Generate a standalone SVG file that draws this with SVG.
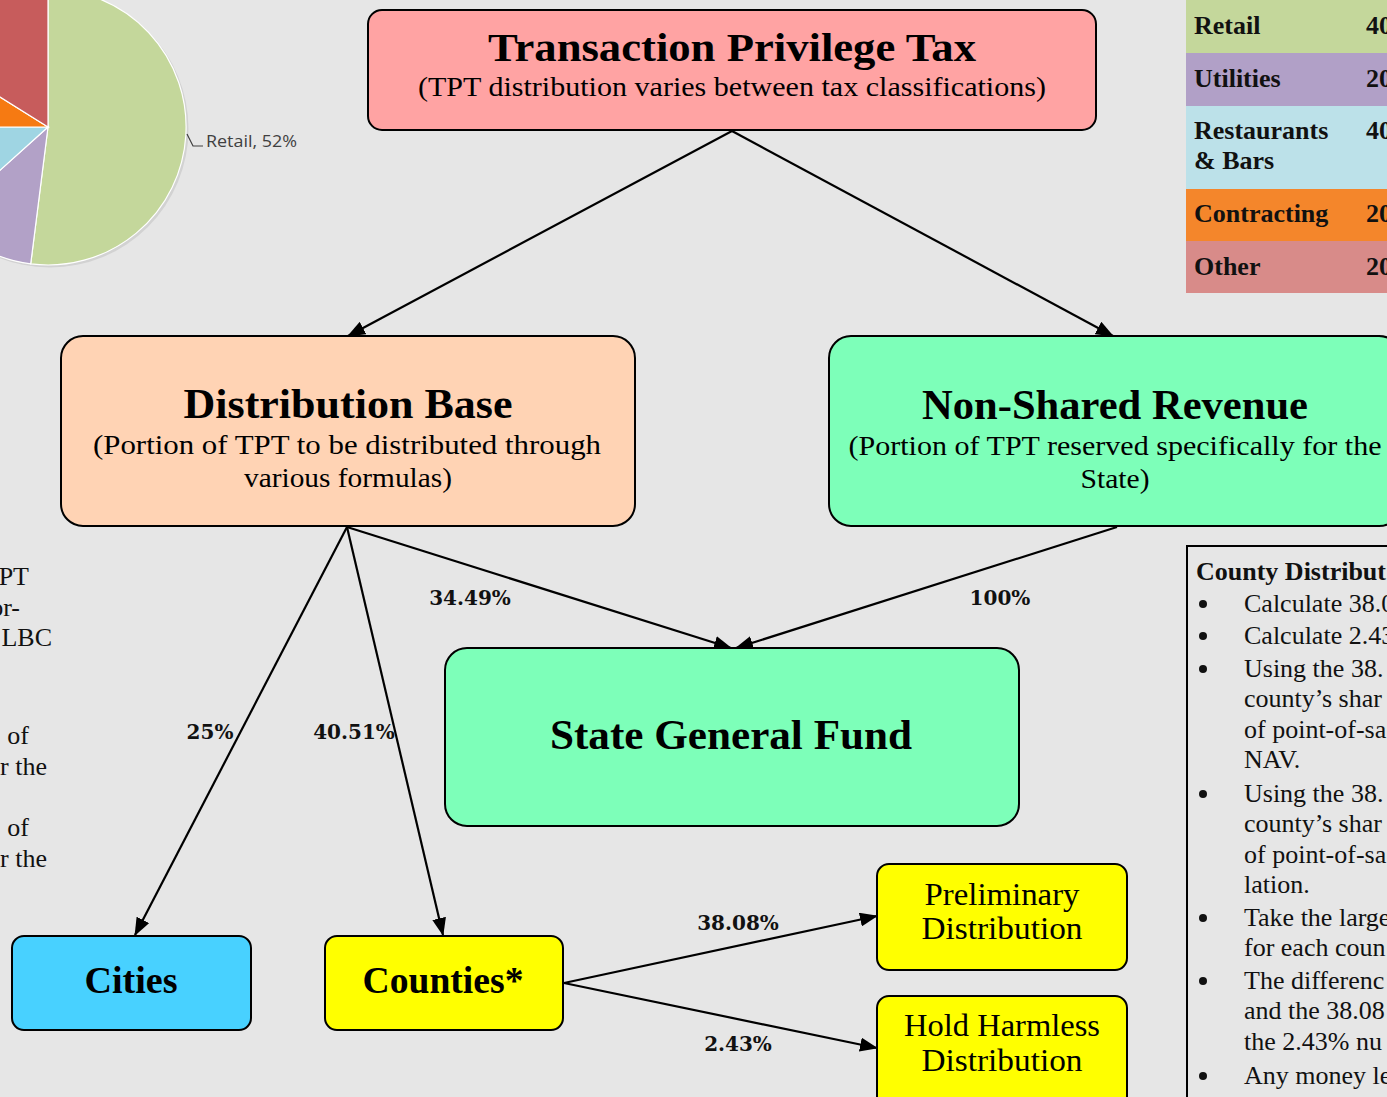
<svg xmlns="http://www.w3.org/2000/svg" width="1387" height="1097" viewBox="0 0 1387 1097">
  <style>
    .box { stroke: #000; stroke-width: 2; }
    .title { font-family: "Liberation Serif", "Times New Roman", serif; font-weight: bold; text-anchor: middle; fill: #000; }
    .sub { font-family: "Liberation Serif", "Times New Roman", serif; text-anchor: middle; fill: #000; }
    .pct { font-family: "DejaVu Serif", serif; font-weight: bold; font-size: 20px; text-anchor: middle; fill: #111; }
    .edge { stroke: #000; stroke-width: 2.2; fill: none; marker-end: url(#arrow); }
    .tbl { font-family: "Liberation Serif", "Times New Roman", serif; font-weight: bold; font-size: 26px; fill: #111; }
    .body { font-family: "Liberation Serif", "Times New Roman", serif; font-size: 26px; fill: #111; }
    .slice { stroke: #fff; stroke-width: 1.2; }
  </style>
  <defs>
    <marker id="arrow" markerUnits="userSpaceOnUse" markerWidth="18" markerHeight="14" refX="17" refY="7" orient="auto">
      <path d="M0,0 L18,7 L0,14 z" fill="#000"/>
    </marker>
  </defs>

  <!-- page background -->
  <rect x="0" y="0" width="1387" height="1097" fill="#e6e6e6"/>

  <!-- sales pie chart (partly off the left edge) -->
  <g id="pie-chart">
    <circle cx="50" cy="129" r="138.5" fill="#d2d2d2"/>
    <path class="slice" fill="#c4d79b" d="M48,127 L48,-11 A138,138 0 1 1 30.7,263.9 Z"/>
    <path class="slice" fill="#b2a1c7" d="M48,127 L30.7,263.9 A138,138 0 0 1 -54.5,219.3 Z"/>
    <path class="slice" fill="#9fd5e3" d="M48,127 L-54.5,219.3 A138,138 0 0 1 -90,127 Z"/>
    <path class="slice" fill="#f67a12" d="M48,127 L-90,127 A138,138 0 0 1 -69,53.9 Z"/>
    <path class="slice" fill="#c75c5c" d="M48,127 L-69,53.9 A138,138 0 0 1 48,-11 Z"/>
    <path d="M187,134 L193,146 L203,146" stroke="#404040" stroke-width="1.2" fill="none"/>
    <text x="206" y="147" font-family="Open Sans, Liberation Sans, sans-serif" font-size="17" fill="#404040" textLength="91" lengthAdjust="spacingAndGlyphs">Retail, 52%</text>
  </g>

  <!-- classification table (top right) -->
  <g id="classification-table">
    <rect x="1186" y="0" width="210" height="53" fill="#c4d79b"/>
    <rect x="1186" y="53" width="210" height="53" fill="#b1a0c7"/>
    <rect x="1186" y="106" width="210" height="83" fill="#bce1e9"/>
    <rect x="1186" y="189" width="210" height="52" fill="#f4862b"/>
    <rect x="1186" y="241" width="210" height="52" fill="#d88b89"/>
    <text class="tbl" x="1194" y="34">Retail</text>
    <text class="tbl" x="1366" y="34">40</text>
    <text class="tbl" x="1194" y="87">Utilities</text>
    <text class="tbl" x="1366" y="87">20</text>
    <text class="tbl" x="1194" y="139">Restaurants</text>
    <text class="tbl" x="1366" y="139">40</text>
    <text class="tbl" x="1194" y="169">&amp; Bars</text>
    <text class="tbl" x="1194" y="222">Contracting</text>
    <text class="tbl" x="1366" y="222">20</text>
    <text class="tbl" x="1194" y="275">Other</text>
    <text class="tbl" x="1366" y="275">20</text>
  </g>

  <!-- notes text cut off at the left edge -->
  <g id="left-notes" class="body" text-anchor="end">
    <text x="29" y="585">PT</text>
    <text x="20" y="616">or-</text>
    <text x="52" y="646">LBC</text>
    <text x="29" y="744">of</text>
    <text x="47" y="775">r the</text>
    <text x="29" y="836">of</text>
    <text x="47" y="867">r the</text>
  </g>

  <!-- county distribution notes (right) -->
  <g id="county-notes">
    <rect x="1187" y="546" width="220" height="570" fill="none" stroke="#000" stroke-width="2"/>
    <text x="1196" y="580" font-family="Liberation Serif, Times New Roman, serif" font-weight="bold" font-size="26" fill="#111">County Distribut</text>
    <g fill="#111">
      <circle cx="1203" cy="604" r="4"/>
      <circle cx="1203" cy="636" r="4"/>
      <circle cx="1203" cy="669" r="4"/>
      <circle cx="1203" cy="794" r="4"/>
      <circle cx="1203" cy="918" r="4"/>
      <circle cx="1203" cy="981" r="4"/>
      <circle cx="1203" cy="1076" r="4"/>
    </g>
    <g class="body">
      <text x="1244" y="612">Calculate 38.0</text>
      <text x="1244" y="644">Calculate 2.43</text>
      <text x="1244" y="677">Using the 38.</text>
      <text x="1244" y="707">county’s shar</text>
      <text x="1244" y="738">of point-of-sa</text>
      <text x="1244" y="768">NAV.</text>
      <text x="1244" y="802">Using the 38.</text>
      <text x="1244" y="832">county’s shar</text>
      <text x="1244" y="863">of point-of-sa</text>
      <text x="1244" y="893">lation.</text>
      <text x="1244" y="926">Take the large</text>
      <text x="1244" y="956">for each coun</text>
      <text x="1244" y="989">The differenc</text>
      <text x="1244" y="1019">and the 38.08</text>
      <text x="1244" y="1050">the 2.43% nu</text>
      <text x="1244" y="1084">Any money le</text>
    </g>
  </g>

  <!-- flow connectors -->
  <g id="connectors">
    <line class="edge" x1="732" y1="131" x2="348" y2="336"/>
    <line class="edge" x1="732" y1="131" x2="1113" y2="336"/>
    <line class="edge" x1="347" y1="527" x2="135" y2="935"/>
    <line class="edge" x1="347" y1="527" x2="443" y2="935"/>
    <line class="edge" x1="347" y1="527" x2="731" y2="648"/>
    <line class="edge" x1="1117" y1="527" x2="736" y2="648"/>
    <line class="edge" x1="564" y1="983" x2="877" y2="916"/>
    <line class="edge" x1="564" y1="983" x2="877" y2="1048"/>
    <text class="pct" x="470" y="605">34.49%</text>
    <text class="pct" x="1000" y="605">100%</text>
    <text class="pct" x="210" y="739">25%</text>
    <text class="pct" x="354" y="739">40.51%</text>
    <text class="pct" x="738" y="930">38.08%</text>
    <text class="pct" x="738" y="1051">2.43%</text>
  </g>

  <!-- nodes -->
  <g id="tpt">
    <rect class="box" x="368" y="10" width="728" height="120" rx="14" fill="#ffa3a3"/>
    <text class="title" x="732" y="61" font-size="41" textLength="488" lengthAdjust="spacingAndGlyphs">Transaction Privilege Tax</text>
    <text class="sub" x="732" y="96" font-size="28" textLength="628" lengthAdjust="spacingAndGlyphs">(TPT distribution varies between tax classifications)</text>
  </g>

  <g id="distribution-base">
    <rect class="box" x="61" y="336" width="574" height="190" rx="22" fill="#ffd3b4"/>
    <text class="title" x="348" y="418" font-size="42" textLength="329" lengthAdjust="spacingAndGlyphs">Distribution Base</text>
    <text class="sub" x="347" y="454" font-size="28" textLength="508" lengthAdjust="spacingAndGlyphs">(Portion of TPT to be distributed through</text>
    <text class="sub" x="348" y="487" font-size="28" textLength="208" lengthAdjust="spacingAndGlyphs">various formulas)</text>
  </g>

  <g id="non-shared-revenue">
    <rect class="box" x="829" y="336" width="572" height="190" rx="22" fill="#7dffb9"/>
    <text class="title" x="1115" y="419" font-size="42" textLength="386" lengthAdjust="spacingAndGlyphs">Non-Shared Revenue</text>
    <text class="sub" x="1115" y="455" font-size="28" textLength="533" lengthAdjust="spacingAndGlyphs">(Portion of TPT reserved specifically for the</text>
    <text class="sub" x="1115" y="488" font-size="28" textLength="69" lengthAdjust="spacingAndGlyphs">State)</text>
  </g>

  <g id="state-general-fund">
    <rect class="box" x="445" y="648" width="574" height="178" rx="22" fill="#7dffb9"/>
    <text class="title" x="731" y="749" font-size="42" textLength="362" lengthAdjust="spacingAndGlyphs">State General Fund</text>
  </g>

  <g id="cities">
    <rect class="box" x="12" y="936" width="239" height="94" rx="12" fill="#48d1ff"/>
    <text class="title" x="131" y="993" font-size="37" textLength="93" lengthAdjust="spacingAndGlyphs">Cities</text>
  </g>

  <g id="counties">
    <rect class="box" x="325" y="936" width="238" height="94" rx="12" fill="#ffff00"/>
    <text class="title" x="443" y="993" font-size="37" textLength="161" lengthAdjust="spacingAndGlyphs">Counties*</text>
  </g>

  <g id="preliminary-distribution">
    <rect class="box" x="877" y="864" width="250" height="106" rx="12" fill="#ffff00"/>
    <text class="sub" x="1002" y="905" font-size="31" textLength="155" lengthAdjust="spacingAndGlyphs">Preliminary</text>
    <text class="sub" x="1002" y="939" font-size="31" textLength="161" lengthAdjust="spacingAndGlyphs">Distribution</text>
  </g>

  <g id="hold-harmless-distribution">
    <rect class="box" x="877" y="996" width="250" height="120" rx="12" fill="#ffff00"/>
    <text class="sub" x="1002" y="1036" font-size="31" textLength="196" lengthAdjust="spacingAndGlyphs">Hold Harmless</text>
    <text class="sub" x="1002" y="1071" font-size="31" textLength="161" lengthAdjust="spacingAndGlyphs">Distribution</text>
  </g>
</svg>
